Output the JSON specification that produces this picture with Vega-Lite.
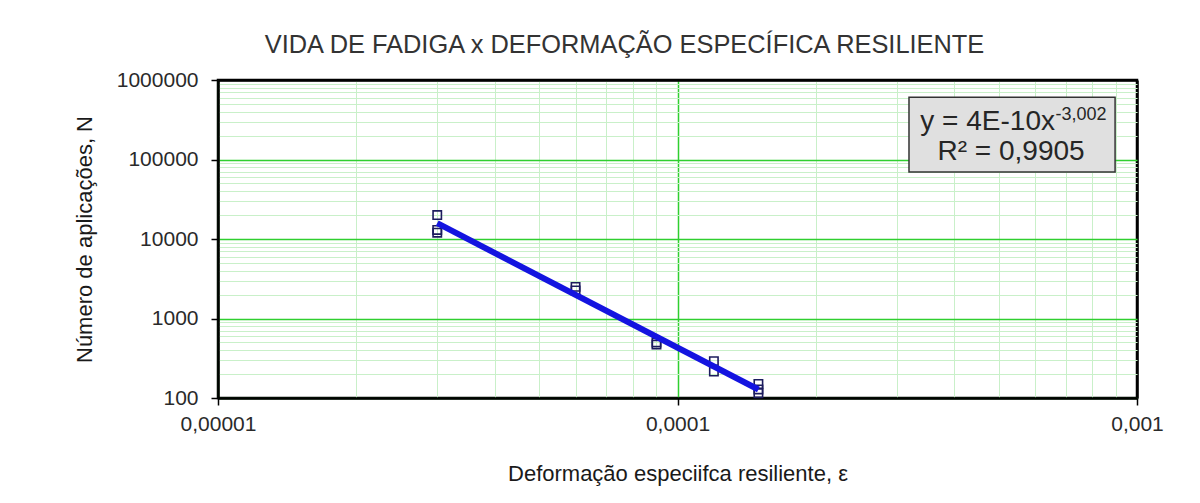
{
  "$schema": "https://vega.github.io/schema/vega-lite/v6.json",
  "autosize": "none",
  "width": 919,
  "height": 318,
  "padding": {"left": 218, "top": 80, "right": 63, "bottom": 105},
  "background": "white",
  "config": {
    "font": "Liberation Sans",
    "view": {"stroke": "black", "strokeWidth": 2.5}
  },
  "title": {
    "text": "VIDA DE FADIGA x DEFORMAÇÃO ESPECÍFICA RESILIENTE",
    "fontSize": 25.4,
    "fontWeight": "normal",
    "color": "#333333",
    "anchor": "middle",
    "dx": -53,
    "offset": 11
  },
  "datasets": {
    "ensaios": [
      {"deformacao": 0.00003, "N": 20000},
      {"deformacao": 0.00003, "N": 13000},
      {"deformacao": 0.00003, "N": 12000},
      {"deformacao": 0.00006, "N": 2500},
      {"deformacao": 0.00006, "N": 2250},
      {"deformacao": 0.00009, "N": 500},
      {"deformacao": 0.00009, "N": 470},
      {"deformacao": 0.00012, "N": 290},
      {"deformacao": 0.00012, "N": 215},
      {"deformacao": 0.00015, "N": 150},
      {"deformacao": 0.00015, "N": 128},
      {"deformacao": 0.00015, "N": 115}
    ],
    "tendencia": [
      {"deformacao": 0.00003, "N": 15800},
      {"deformacao": 0.00015, "N": 128}
    ]
  },
  "layer": [
    {
      "data": {"name": "ensaios"},
      "mark": {"type": "point", "shape": "square", "filled": false, "size": 70, "stroke": "#1c1c5e", "strokeWidth": 1.6, "opacity": 1, "zindex": 2},
      "encoding": {
        "x": {
          "field": "deformacao",
          "type": "quantitative",
          "scale": {"type": "log", "domain": [0.00001, 0.001], "nice": false, "zero": false},
          "axis": {
            "title": "Deformação especiifca resiliente,  ε",
            "titleFontSize": 22,
            "titleFontWeight": "normal",
            "titleColor": "#1a1a1a",
            "titlePadding": 29,
            "values": [0.00001, 0.00002, 0.00003, 0.00004, 0.00005, 0.00006, 0.00007, 0.00008, 0.00009, 0.0001, 0.0002, 0.0003, 0.0004, 0.0005, 0.0006, 0.0007, 0.0008, 0.0009, 0.001],
            "labelExpr": "abs(log(datum.value)/LN10 - round(log(datum.value)/LN10)) < 0.001 ? replace(toString(datum.value), '.', ',') : ''",
            "labelFontSize": 21,
            "labelColor": "#2a2a2a",
            "labelPadding": 8,
            "labelFlush": false,
            "labelOverlap": false,
            "labelBound": false,
            "tickSize": 7,
            "tickColor": "black",
            "tickWidth": 1.5,
            "tickOpacity": {"condition": {"test": "abs(log(datum.value)/LN10 - round(log(datum.value)/LN10)) < 0.001", "value": 1}, "value": 0},
            "domainColor": "black",
            "domainWidth": 2.5,
            "grid": true,
            "gridColor": {"condition": [
              {"test": "datum.value > 0.00095", "value": "black"},
              {"test": "abs(log(datum.value)/LN10 - round(log(datum.value)/LN10)) < 0.001", "value": "#2fcf2f"}
            ], "value": "#c9f0c9"},
            "gridWidth": {"condition": [
              {"test": "datum.value > 0.00095", "value": 2.5},
              {"test": "abs(log(datum.value)/LN10 - round(log(datum.value)/LN10)) < 0.001", "value": 1.5}
            ], "value": 1},
            "gridOpacity": 1
          }
        },
        "y": {
          "field": "N",
          "type": "quantitative",
          "scale": {"type": "log", "domain": [100, 1000000], "nice": false, "zero": false},
          "axis": {
            "title": "Número de aplicações, N",
            "titleFontSize": 22,
            "titleFontWeight": "normal",
            "titleColor": "#1a1a1a",
            "titlePadding": 20,
            "values": [100, 200, 300, 400, 500, 600, 700, 800, 900, 1000, 2000, 3000, 4000, 5000, 6000, 7000, 8000, 9000, 10000, 20000, 30000, 40000, 50000, 60000, 70000, 80000, 90000, 100000, 200000, 300000, 400000, 500000, 600000, 700000, 800000, 900000, 1000000],
            "labelExpr": "abs(log(datum.value)/LN10 - round(log(datum.value)/LN10)) < 0.001 ? format(datum.value, 'd') : ''",
            "labelFontSize": 21,
            "labelColor": "#2a2a2a",
            "labelPadding": 13,
            "labelFlush": false,
            "labelOverlap": false,
            "labelBound": false,
            "tickSize": 7,
            "tickColor": "black",
            "tickWidth": 1.5,
            "tickOpacity": {"condition": {"test": "abs(log(datum.value)/LN10 - round(log(datum.value)/LN10)) < 0.001", "value": 1}, "value": 0},
            "domainColor": "black",
            "domainWidth": 2.5,
            "grid": true,
            "gridColor": {"condition": [
              {"test": "datum.value > 950000", "value": "black"},
              {"test": "abs(log(datum.value)/LN10 - round(log(datum.value)/LN10)) < 0.001", "value": "#2fcf2f"}
            ], "value": "#c9f0c9"},
            "gridWidth": {"condition": [
              {"test": "datum.value > 950000", "value": 2.5},
              {"test": "abs(log(datum.value)/LN10 - round(log(datum.value)/LN10)) < 0.001", "value": 1.5}
            ], "value": 1},
            "gridOpacity": 1
          }
        }
      }
    },
    {
      "data": {"name": "tendencia"},
      "mark": {"type": "line", "color": "#1414e0", "strokeWidth": 6, "strokeCap": "butt", "zindex": 1},
      "encoding": {
        "x": {"field": "deformacao", "type": "quantitative"},
        "y": {"field": "N", "type": "quantitative"}
      }
    },
    {
      "data": {"values": [{}]},
      "mark": {"type": "rect", "fill": "#e0e0e0", "stroke": "#333333", "strokeWidth": 1.5},
      "encoding": {
        "x": {"datum": 0.000319, "type": "quantitative"},
        "x2": {"datum": 0.000896},
        "y": {"datum": 606000, "type": "quantitative"},
        "y2": {"datum": 69600}
      }
    },
    {
      "data": {"values": [{}]},
      "mark": {"type": "text", "text": "y = 4E-10x", "align": "right", "baseline": "alphabetic", "fontSize": 28, "color": "#262626"},
      "encoding": {
        "x": {"datum": 0.000663, "type": "quantitative"},
        "y": {"datum": 235000, "type": "quantitative"}
      }
    },
    {
      "data": {"values": [{}]},
      "mark": {"type": "text", "text": "-3,002", "align": "left", "baseline": "alphabetic", "fontSize": 18, "color": "#262626"},
      "encoding": {
        "x": {"datum": 0.000665, "type": "quantitative"},
        "y": {"datum": 314000, "type": "quantitative"}
      }
    },
    {
      "data": {"values": [{}]},
      "mark": {"type": "text", "text": "R² = 0,9905", "align": "center", "baseline": "alphabetic", "fontSize": 28, "color": "#262626"},
      "encoding": {
        "x": {"datum": 0.000532, "type": "quantitative"},
        "y": {"datum": 98600, "type": "quantitative"}
      }
    }
  ]
}
